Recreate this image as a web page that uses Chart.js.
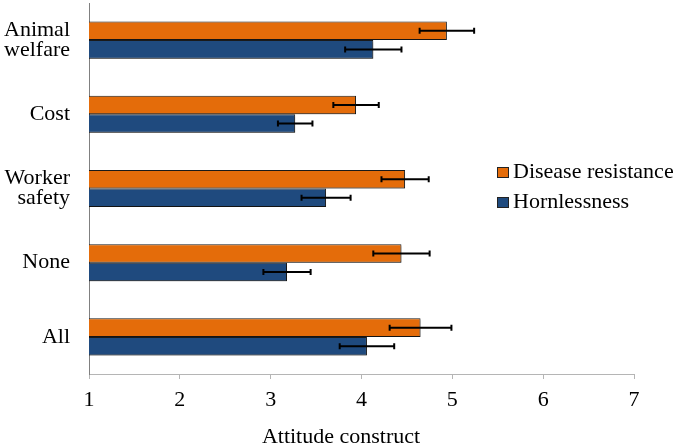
<!DOCTYPE html>
<html>
<head>
<meta charset="utf-8">
<script src="https://cdn.jsdelivr.net/npm/chart.js@4.4.1/dist/chart.umd.min.js"></script>
<style>
  html, body { margin: 0; padding: 0; background: #fff; }
  #wrap { width: 675px; height: 446px; }
</style>
</head>
<body>
<div id="wrap"><canvas id="chart" width="675" height="446"></canvas></div>
<script>
const categories = [["Animal", "welfare"], "Cost", ["Worker", "safety"], "None", "All"];
const seriesNames = ["Disease resistance", "Hornlessness"];
const diseaseValues = [4.94, 3.94, 4.48, 4.44, 4.65];
const diseaseErrors = [0.30, 0.25, 0.26, 0.31, 0.34];
const hornValues = [4.13, 3.27, 3.61, 3.18, 4.06];
const hornErrors = [0.31, 0.19, 0.27, 0.26, 0.30];
const xMin = 1;
const xMax = 7;
const axisTitle = "Attitude construct";

const serif = "'Liberation Serif', 'Times New Roman', serif";

// shadow under bars + error bars on top
const errorBars = {
  id: "errorBars",
  beforeDatasetsDraw(chart) {
    const ctx = chart.ctx;
    ctx.save();
    ctx.shadowColor = "rgba(0,0,0,0.25)";
    ctx.shadowOffsetX = 1.5;
    ctx.shadowOffsetY = 2;
    ctx.shadowBlur = 2;
  },
  afterDatasetsDraw(chart) {
    const ctx = chart.ctx;
    ctx.restore();
    const x = chart.scales.x;
    chart.data.datasets.forEach((ds, d) => {
      const meta = chart.getDatasetMeta(d);
      ds.data.forEach((v, i) => {
        const y = meta.data[i].y;
        const lo = x.getPixelForValue(v - ds.errors[i]);
        const hi = x.getPixelForValue(v + ds.errors[i]);
        ctx.save();
        ctx.strokeStyle = "#000";
        ctx.lineWidth = 2;
        ctx.beginPath();
        ctx.moveTo(lo, y);
        ctx.lineTo(hi, y);
        ctx.moveTo(lo, y - 3);
        ctx.lineTo(lo, y + 3);
        ctx.moveTo(hi, y - 3);
        ctx.lineTo(hi, y + 3);
        ctx.stroke();
        ctx.restore();
      });
    });
  },
  afterDraw(chart) {
    const ctx = chart.ctx;
    ctx.save();
    // legend sits inside the plot, on the right
    ctx.font = "22px " + serif;
    ctx.textBaseline = "alphabetic";
    ctx.textAlign = "left";
    chart.data.datasets.forEach((ds, d) => {
      const base = 178 + d * 30;
      ctx.fillStyle = ds.backgroundColor;
      ctx.fillRect(497, base - 11, 12, 11);
      ctx.strokeStyle = "#222";
      ctx.lineWidth = 1;
      ctx.strokeRect(497.5, base - 10.5, 11, 10);
      ctx.fillStyle = "#000";
      ctx.fillText(ds.label, 513, base);
    });
    // axis title
    ctx.textAlign = "center";
    ctx.fillText(axisTitle, 341, 443);
    ctx.restore();
  },
};

new Chart(document.getElementById("chart"), {
  type: "bar",
  data: {
    labels: categories,
    datasets: [
      {
        label: seriesNames[0],
        data: diseaseValues,
        errors: diseaseErrors,
        backgroundColor: "#E46C0A",
        borderColor: "#1a1a1a",
        borderWidth: 1,
      },
      {
        label: seriesNames[1],
        data: hornValues,
        errors: hornErrors,
        backgroundColor: "#1F4A7E",
        borderColor: "#1a1a1a",
        borderWidth: 1,
      },
    ],
  },
  plugins: [errorBars],
  options: {
    indexAxis: "y",
    responsive: false,
    animation: false,
    devicePixelRatio: 1,
    layout: {
      padding: { top: 3, right: 41, bottom: 0, left: 0 },
    },
    datasets: {
      bar: {
        categoryPercentage: 0.5,
        barPercentage: 1.0,
      },
    },
    scales: {
      x: {
        min: xMin,
        max: xMax,
        ticks: {
          stepSize: 1,
          color: "#000",
          padding: 8,
          font: { family: serif, size: 22 },
        },
        grid: {
          drawOnChartArea: false,
          drawTicks: true,
          tickLength: 5,
          color: "#b5b5b5",
        },
        border: { display: true, color: "#b5b5b5", width: 1 },
        afterFit: (scale) => {
          scale.height = 72;
        },
      },
      y: {
        ticks: {
          color: "#000",
          padding: 19,
          crossAlign: "near",
          font: { family: serif, size: 22, lineHeight: 0.92 },
        },
        grid: { display: false, drawTicks: false },
        border: { display: true, color: "#808080", width: 1 },
        afterFit: (scale) => {
          scale.width = 89;
          scale.paddingTop = 0;
          scale.paddingBottom = 0;
        },
      },
    },
    plugins: {
      legend: { display: false },
      tooltip: { enabled: false },
    },
  },
});
</script>
</body>
</html>
